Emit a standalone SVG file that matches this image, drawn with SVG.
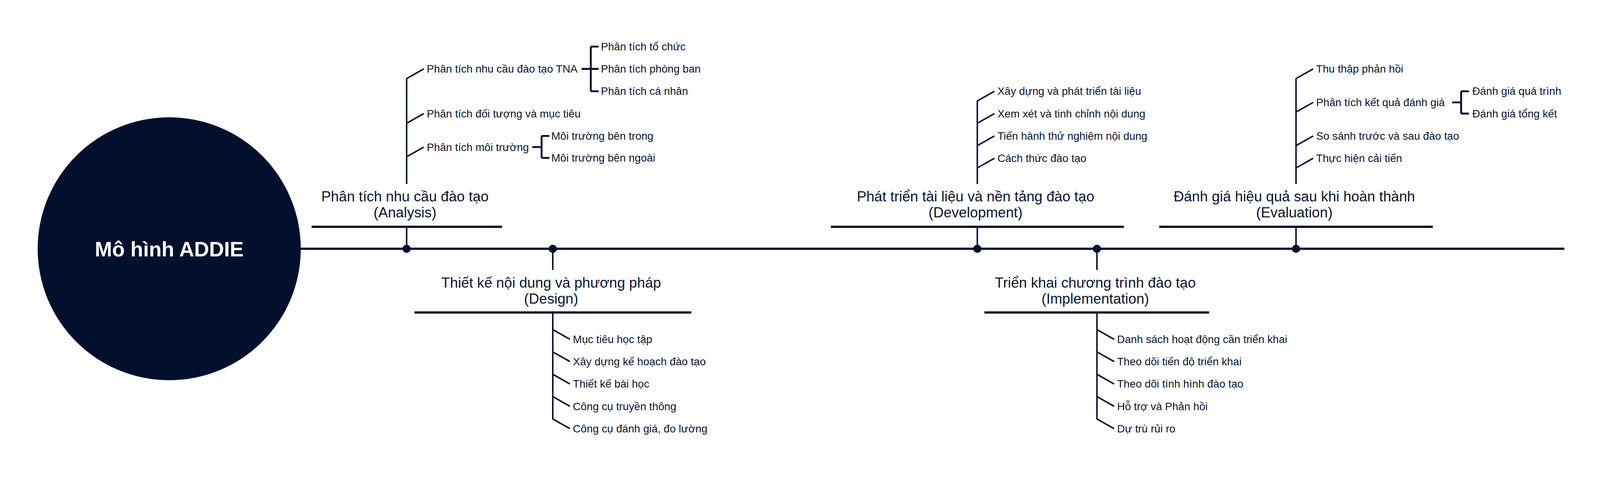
<svg xmlns="http://www.w3.org/2000/svg" width="4298" height="1276" viewBox="0 0 4298 1276">
<style>
.bg{fill:#ffffff}
.spine{stroke:#02102e;stroke-width:5.7;fill:none}
.bar{stroke:#02102e;stroke-width:5.7;fill:none}
.br{stroke:#02102e;stroke-width:3.8;fill:none}
.bk{stroke:#02102e;stroke-width:4.8;fill:none}
.dot{fill:#02102e}
.hub{fill:#02102e}
.t-main{font-family:"Liberation Sans",Arial,sans-serif;font-size:53px;font-weight:bold;fill:#ffffff;text-anchor:middle}
.t-title{font-family:"Liberation Sans",Arial,sans-serif;font-size:36.7px;fill:#0b1530;text-anchor:middle}
.t-sub{font-family:"Liberation Sans",Arial,sans-serif;font-size:27.7px;fill:#0b1530}
</style>
<rect class="bg" x="0" y="0" width="4298" height="1276"/>

<g id="connectors">
  <line class="spine" x1="763" y1="637.4" x2="4004.8" y2="637.4"/>
  <!-- Analysis -->
  <line class="br" x1="1041" y1="581.1" x2="1041" y2="637.4"/>
  <line class="br" x1="1041" y1="200.4" x2="1041" y2="471.4"/>
  <path class="br" d="M1041 201.3 L1084.9 176.5 M1041 315.8 L1084.9 291 M1041 401.7 L1084.9 376.9"/>
  <path class="bk" d="M1488.6 176.5 H1532.4 M1512.4 119.3 V233.8 M1512.4 119.3 H1532.4 M1512.4 233.8 H1532.4"/>
  <path class="bk" d="M1362.6 376.9 H1386.5 M1386.5 348.3 V404.6 M1386.5 348.3 H1406.5 M1386.5 404.6 H1406.5"/>
  <!-- Design -->
  <line class="br" x1="1415.1" y1="637.4" x2="1415.1" y2="691.8"/>
  <line class="br" x1="1415.1" y1="800.6" x2="1415.1" y2="1074.4"/>
  <path class="br" d="M1415.1 844.5 L1459 869.3 M1415.1 901.7 L1459 926.5 M1415.1 959 L1459 983.8 M1415.1 1016.2 L1459 1041 M1415.1 1073.5 L1459 1098.3"/>
  <!-- Development -->
  <line class="br" x1="2501.9" y1="581.1" x2="2501.9" y2="637.4"/>
  <line class="br" x1="2501.9" y1="257.6" x2="2501.9" y2="471.4"/>
  <path class="br" d="M2501.9 258.6 L2545.8 233.8 M2501.9 315.8 L2545.8 291 M2501.9 373.1 L2545.8 348.3 M2501.9 430.3 L2545.8 405.5"/>
  <!-- Implementation -->
  <line class="br" x1="2808.2" y1="637.4" x2="2808.2" y2="691.8"/>
  <line class="br" x1="2808.2" y1="800.6" x2="2808.2" y2="1074.4"/>
  <path class="br" d="M2808.2 844.5 L2852.1 869.3 M2808.2 901.7 L2852.1 926.5 M2808.2 959 L2852.1 983.8 M2808.2 1016.2 L2852.1 1041 M2808.2 1073.5 L2852.1 1098.3"/>
  <!-- Evaluation -->
  <line class="br" x1="3317.8" y1="581.1" x2="3317.8" y2="637.4"/>
  <line class="br" x1="3317.8" y1="200.4" x2="3317.8" y2="471.4"/>
  <path class="br" d="M3317.8 201.3 L3361.7 176.5 M3317.8 287.2 L3361.7 262.4 M3317.8 373.1 L3361.7 348.3 M3317.8 430.3 L3361.7 405.5"/>
  <path class="bk" d="M3717.6 262.4 H3740.5 M3740.5 233.8 V291 M3740.5 233.8 H3760.5 M3740.5 291 H3760.5"/>
  <!-- dots on the spine -->
  <circle class="dot" cx="1041" cy="637.4" r="10.5"/>
  <circle class="dot" cx="1415.1" cy="637.4" r="10.5"/>
  <circle class="dot" cx="2501.9" cy="637.4" r="10.5"/>
  <circle class="dot" cx="2808.2" cy="637.4" r="10.5"/>
  <circle class="dot" cx="3317.8" cy="637.4" r="10.5"/>
</g>

<g id="node-main">
  <circle class="hub" cx="433.2" cy="637.4" r="336.8"/>
  <text class="t-main" x="433.2" y="656.5">Mô hình ADDIE</text>
</g>

<g id="node-analysis">
  <text class="t-title" x="1036.8" y="516.2">Phân tích nhu cầu đào tạo</text>
  <text class="t-title" x="1036.8" y="557.3">(Analysis)</text>
  <line class="bar" x1="797.7" y1="581.1" x2="1285.3" y2="581.1"/>
</g>
<g id="node-analysis-items">
  <text class="t-sub" x="1092.6" y="186.1">Phân tích nhu cầu đào tạo TNA</text>
  <text class="t-sub" x="1092.6" y="300.6">Phân tích đối tượng và mục tiêu</text>
  <text class="t-sub" x="1092.6" y="386.5">Phân tích môi trường</text>
  <text class="t-sub" x="1538.2" y="128.8">Phân tích tổ chức</text>
  <text class="t-sub" x="1538.2" y="186.1">Phân tích phòng ban</text>
  <text class="t-sub" x="1538.2" y="243.3">Phân tích cá nhân</text>
  <text class="t-sub" x="1411.3" y="357.8">Môi trường bên trong</text>
  <text class="t-sub" x="1411.3" y="414.1">Môi trường bên ngoài</text>
</g>

<g id="node-design">
  <text class="t-title" x="1410.9" y="736.6">Thiết kế nội dung và phương pháp</text>
  <text class="t-title" x="1410.9" y="777.7">(Design)</text>
  <line class="bar" x1="1061.1" y1="800.6" x2="1770" y2="800.6"/>
</g>
<g id="node-design-items">
  <text class="t-sub" x="1466.6" y="878.8">Mục tiêu học tập</text>
  <text class="t-sub" x="1466.6" y="936.1">Xây dựng kế hoạch đào tạo</text>
  <text class="t-sub" x="1466.6" y="993.3">Thiết kế bài học</text>
  <text class="t-sub" x="1466.6" y="1050.6">Công cụ truyền thông</text>
  <text class="t-sub" x="1466.6" y="1107.8">Công cụ đánh giá, đo lường</text>
</g>

<g id="node-development">
  <text class="t-title" x="2497.4" y="516.2">Phát triển tài liệu và nền tảng đào tạo</text>
  <text class="t-title" x="2497.4" y="557.3">(Development)</text>
  <line class="bar" x1="2126.9" y1="581.1" x2="2876.9" y2="581.1"/>
</g>
<g id="node-development-items">
  <text class="t-sub" x="2553.4" y="243.3">Xây dựng và phát triển tài liệu</text>
  <text class="t-sub" x="2553.4" y="300.6">Xem xét và tinh chỉnh nội dung</text>
  <text class="t-sub" x="2553.4" y="357.8">Tiến hành thử nghiệm nội dung</text>
  <text class="t-sub" x="2553.4" y="415.1">Cách thức đào tạo</text>
</g>

<g id="node-implementation">
  <text class="t-title" x="2803.9" y="736.6">Triển khai chương trình đào tạo</text>
  <text class="t-title" x="2803.9" y="777.7">(Implementation)</text>
  <line class="bar" x1="2520" y1="800.6" x2="3095.4" y2="800.6"/>
</g>
<g id="node-implementation-items">
  <text class="t-sub" x="2859.7" y="878.8">Danh sách hoạt động cần triển khai</text>
  <text class="t-sub" x="2859.7" y="936.1">Theo dõi tiến độ triển khai</text>
  <text class="t-sub" x="2859.7" y="993.3">Theo dõi tình hình đào tạo</text>
  <text class="t-sub" x="2859.7" y="1050.6">Hỗ trợ và Phản hồi</text>
  <text class="t-sub" x="2859.7" y="1107.8">Dự trù rủi ro</text>
</g>

<g id="node-evaluation">
  <text class="t-title" x="3313.5" y="516.2">Đánh giá hiệu quả sau khi hoàn thành</text>
  <text class="t-title" x="3313.5" y="557.3">(Evaluation)</text>
  <line class="bar" x1="2967.6" y1="581.1" x2="3668" y2="581.1"/>
</g>
<g id="node-evaluation-items">
  <text class="t-sub" x="3369.3" y="186.1">Thu thập phản hồi</text>
  <text class="t-sub" x="3369.3" y="271.9">Phân tích kết quả đánh giá</text>
  <text class="t-sub" x="3369.3" y="357.8">So sánh trước và sau đào tạo</text>
  <text class="t-sub" x="3369.3" y="415.1">Thực hiện cải tiến</text>
  <text class="t-sub" x="3769.1" y="243.3">Đánh giá quá trình</text>
  <text class="t-sub" x="3769.1" y="300.6">Đánh giá tổng kết</text>
</g>
</svg>
